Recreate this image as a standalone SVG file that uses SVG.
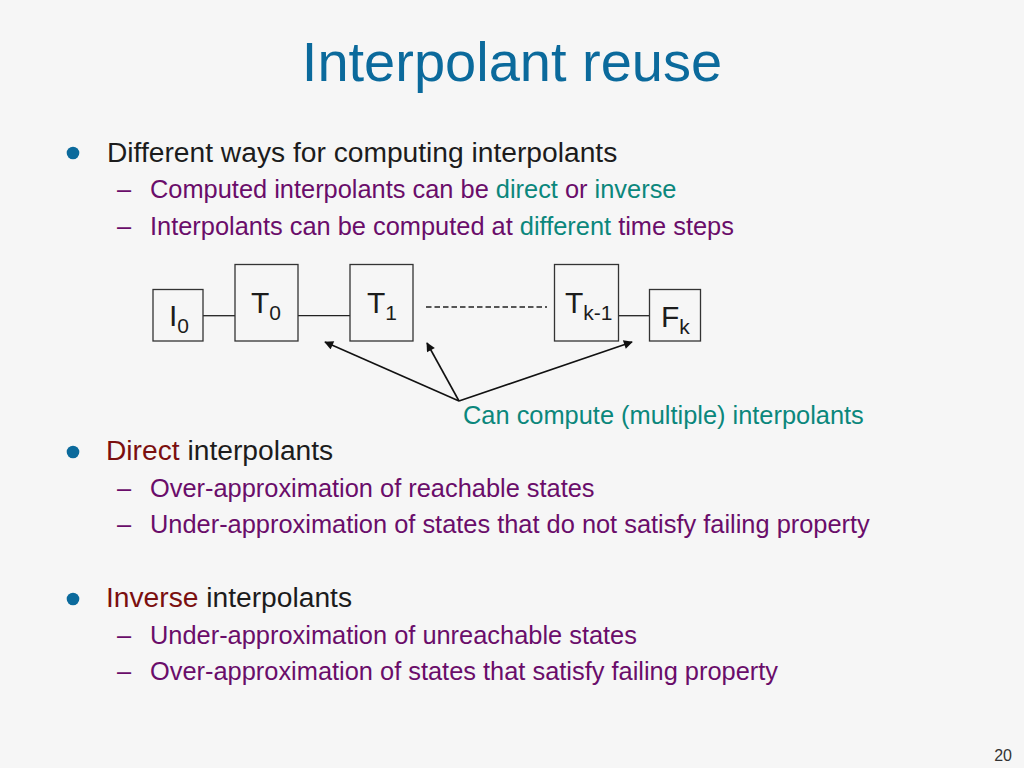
<svg xmlns="http://www.w3.org/2000/svg" width="1024" height="768" viewBox="0 0 1024 768">
<defs>
<style>
text{font-family:"Liberation Sans",Arial,sans-serif}
.title{font-size:56px;fill:#0b6a9c}
.b1{font-size:28.2px;fill:#1c1c1c}
.b2{font-size:25.4px;fill:#6a0d6a}
.teal{fill:#0b877c}
.red{fill:#7b0f0f}
.box{fill:none;stroke:#333;stroke-width:1.3}
.lbl{font-size:30px;fill:#1c1c1c}
.sub{font-size:21px}
.conn{stroke:#222;stroke-width:1.3;fill:none}
.arr{stroke:#111;stroke-width:1.6;fill:none;marker-end:url(#ah)}
.dot{fill:#0b6a9c}
</style>
<marker id="ah" viewBox="0 0 10 10" refX="9" refY="5" markerWidth="10" markerHeight="9" markerUnits="userSpaceOnUse" orient="auto">
<path d="M0,0 L10,5 L0,10 z" fill="#111"/>
</marker>
</defs>
<rect width="1024" height="768" fill="#f6f6f6"/>
<text class="title" x="512" y="81" text-anchor="middle">Interpolant reuse</text>

<circle class="dot" cx="73" cy="153" r="6.3"/>
<text class="b1" x="107" y="162">Different ways for computing interpolants</text>
<text class="b2" x="117" y="198">–</text>
<text class="b2" x="150" y="198">Computed interpolants can be <tspan class="teal">direct</tspan> or <tspan class="teal">inverse</tspan></text>
<text class="b2" x="117" y="235">–</text>
<text class="b2" x="150" y="235">Interpolants can be computed at <tspan class="teal">different</tspan> time steps</text>

<g id="connectors">
<line class="conn" x1="203" y1="315.7" x2="235" y2="315.7"/>
<line class="conn" x1="298" y1="315.7" x2="350" y2="315.7"/>
<line class="conn" x1="426" y1="307" x2="547" y2="307" stroke-dasharray="5.5,3"/>
<line class="conn" x1="619" y1="315.7" x2="649" y2="315.7"/>
<line class="arr" x1="459" y1="401" x2="325" y2="342"/>
<line class="arr" x1="459" y1="401" x2="427" y2="343"/>
<line class="arr" x1="459" y1="401" x2="632" y2="342"/>
</g>

<g id="node-I0">
<rect class="box" x="153" y="289.5" width="50" height="51.5"/>
<text class="lbl" x="169" y="326">I<tspan class="sub" dy="7">0</tspan></text>
</g>
<g id="node-T0">
<rect class="box" x="235" y="264.5" width="63" height="76.5"/>
<text class="lbl" x="251" y="313">T<tspan class="sub" dy="7">0</tspan></text>
</g>
<g id="node-T1">
<rect class="box" x="350" y="264.5" width="63" height="76.5"/>
<text class="lbl" x="367" y="313">T<tspan class="sub" dy="7">1</tspan></text>
</g>
<g id="node-Tk-1">
<rect class="box" x="554.5" y="264.5" width="64" height="76.5"/>
<text class="lbl" x="565" y="313">T<tspan class="sub" dy="7">k-1</tspan></text>
</g>
<g id="node-Fk">
<rect class="box" x="649.5" y="289.5" width="51" height="51.5"/>
<text class="lbl" x="661" y="326.5">F<tspan class="sub" dy="7">k</tspan></text>
</g>

<text class="b2 teal" x="463" y="424">Can compute (multiple) interpolants</text>

<circle class="dot" cx="73" cy="452" r="6.3"/>
<text class="b1" x="106" y="460"><tspan class="red">Direct</tspan> interpolants</text>
<text class="b2" x="117" y="497">–</text>
<text class="b2" x="150" y="497">Over-approximation of reachable states</text>
<text class="b2" x="117" y="533">–</text>
<text class="b2" x="150" y="533">Under-approximation of states that do not satisfy failing property</text>

<circle class="dot" cx="73" cy="599" r="6.3"/>
<text class="b1" x="106" y="607"><tspan class="red">Inverse</tspan> interpolants</text>
<text class="b2" x="117" y="644">–</text>
<text class="b2" x="150" y="644">Under-approximation of unreachable states</text>
<text class="b2" x="117" y="680">–</text>
<text class="b2" x="150" y="680">Over-approximation of states that satisfy failing property</text>

<text x="1012" y="761" text-anchor="end" style="font-size:16px;fill:#333">20</text>
</svg>
